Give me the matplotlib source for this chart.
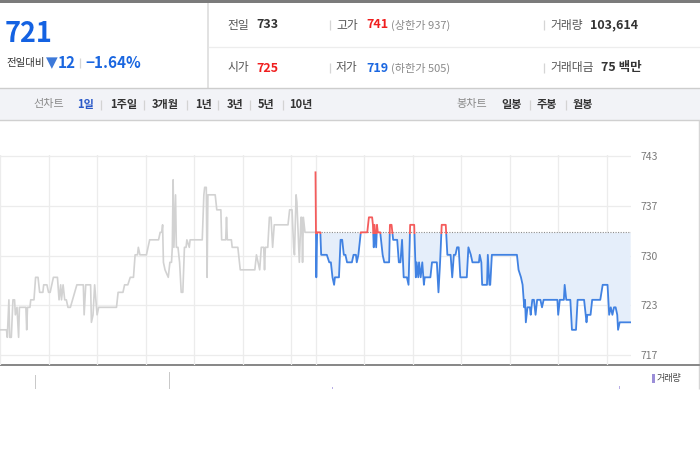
"""
주식 시세 위젯 (1일 선차트) 재현
"""

import numpy as np
import matplotlib
matplotlib.use('Agg')
import matplotlib.pyplot as plt
from matplotlib.patches import Rectangle

plt.rcParams['font.family'] = ['Noto Sans CJK KR', 'DejaVu Sans']

# 전일 장중 (09:00 기준 분, 가격)
prev_min = [0, 8, 9, 11, 12, 14, 16, 18, 19, 21, 23, 24, 32, 33, 34, 37, 38, 42, 44, 47,
            49, 53, 54, 58, 60, 62, 64, 66, 71, 73, 75, 76, 78, 80, 82, 84, 87, 95, 103,
            104, 106, 112, 113, 115, 117, 120, 122, 144, 146, 152, 154, 158, 161, 165, 167,
            170, 171, 173, 181, 185, 196, 198, 200, 201,
            202, 204, 208, 210, 212, 213, 214, 215, 217, 218, 220, 222, 224, 226, 228, 230,
            231, 234, 235, 244, 250, 252, 253, 255, 256, 257, 266, 268, 273, 274, 279, 280,
            281, 286, 287, 294, 297, 315, 317, 319, 321, 323, 326, 327, 328, 331, 333, 335,
            337, 339, 356, 358, 361, 363, 364, 366, 367, 370, 372, 373, 374, 375, 377, 390]
prev_price = [720, 720, 719, 724, 719, 719, 724, 724, 722, 723, 719, 723, 723, 720, 723, 723,
              724, 724, 727, 727, 725, 725, 726, 726, 725, 725, 726, 727, 727, 724, 726, 724,
              726, 724, 724, 723, 723, 726, 726, 722, 726, 726, 721, 722, 726, 722, 723, 723,
              725, 725, 726, 726, 727, 727, 730, 730, 731, 730, 730, 732, 732, 733, 733, 734,
              729, 728, 727, 729, 729, 731, 740, 731, 738, 731, 731,
              729, 725, 725, 731, 731, 732, 731, 732, 732, 732, 738, 739, 739, 727, 738, 738,
              736, 736, 732, 732, 735, 732, 732, 731, 731, 728, 728, 730, 729, 728, 731, 731,
              728, 731, 731, 735, 735, 731, 734, 734, 736, 736, 731, 730, 738, 737, 729, 735,
              735, 729, 735, 733, 733]

# 당일 장중 (09:00 기준 분, 가격)
today_min = [0, 1, 2, 6, 7, 14, 17, 19, 21, 23, 24, 29, 31, 33, 35, 37, 39, 45, 47, 50, 51,
             53, 56, 64, 66, 70, 71, 72, 73, 75, 76, 77, 80, 83, 85, 91, 92, 94, 96, 101, 103,
             105, 107, 109, 113, 115, 117, 122, 124, 125, 127, 128, 130, 132, 134, 135, 142,
             144, 150, 152, 154, 156, 161, 163, 167, 169, 171, 173, 175, 177, 179, 187, 189,
             192, 194, 202, 203, 205, 206, 212, 213, 215, 216, 218, 249, 251, 254, 256, 258,
             259, 260, 262, 265, 266, 268, 270, 272, 274, 278, 280, 282, 299, 300, 302, 307,
             308, 310, 315, 317, 322, 324, 332, 335, 336, 340, 342, 352, 355, 361, 363, 365,
             367, 369, 371, 373, 374, 376, 389]
today_price = [741, 727, 733, 733, 730, 730, 729, 729, 727, 726, 727, 727, 732, 732, 730, 730,
               729, 729, 730, 730, 729, 730, 733, 733, 735, 735, 734, 731, 734, 731, 734, 733,
               733, 730, 729, 729, 734, 734, 732, 732, 729, 729, 732, 727, 727, 726, 734, 734,
               727, 729, 727, 729, 727, 729, 726, 727, 727, 729, 729, 725, 729, 734, 734, 730,
               730, 727, 730, 730, 731, 731, 727, 727, 731, 730, 729, 729, 730, 729, 726, 726,
               730, 726, 726, 730, 730, 728, 727, 726, 723, 724, 721, 723, 723, 722, 724, 724,
               722, 724, 724, 723, 724, 724, 722, 724, 724, 726, 724, 724, 720, 720, 724, 724,
               721, 722, 722, 724, 724, 726, 726, 722, 723, 722, 723, 723, 722, 720, 721, 721]

prev_close = 733
day_len = 390
ytick_vals = [716.64, 723.27, 729.9, 736.53, 743.16]
ytick_labels = ['717', '723', '730', '737', '743']
grid_min = [0, 60, 120, 180, 240, 300, 360, 390, 450, 510, 570, 630, 690, 750]

# 거래량 (보이는 부분만)
vol_min = [44, 210, 411, 766]
vol_val = [14, 17, 2, 3]
vol_color = ['#c9c9c9', '#c9c9c9', '#b9aee6', '#b9aee6']

W, H = 700, 450
fig = plt.figure(figsize=(7, 4.5), dpi=100)

# 배경 레이어 (픽셀 좌표)
bg = fig.add_axes([0, 0, 1, 1])
bg.set_xlim(0, W)
bg.set_ylim(H, 0)
bg.axis('off')


def txt(x, y, s, size=9, color='#333333', weight='normal'):
    bg.text(x, y, s, fontsize=size, color=color, fontweight=weight,
            ha='left', va='center')


def vbar(x, y0, y1, color='#d5d5d5', lw=0.9):
    bg.plot([x, x], [y0, y1], color=color, lw=lw, solid_capstyle='butt')


# 상단 테두리, 구분선
bg.add_patch(Rectangle((0, 0), W, 2.8, color='#7b7b7b', lw=0))
bg.add_patch(Rectangle((207, 2.8), 2, 85, color='#e2e2e2', lw=0))
bg.plot([209, W], [46.5, 46.5], color='#ededed', lw=0.9)

# 현재가
txt(5, 34, '721', size=19.5, color='#1462e2', weight='bold')
txt(6, 63, '전일대비', size=7.5, color='#333333')
bg.text(46, 62.5, '▼', fontsize=11, color='#3d79d9', ha='left', va='center',
        family=['DejaVu Sans'])
txt(57.5, 63, '12', size=11, color='#1a66e0', weight='bold')
vbar(80, 58, 68)
txt(85, 63, '−1.64%', size=11, color='#1a66e0', weight='bold')

# 시세 표
txt(227, 25, '전일', size=8.5, color='#555555')
txt(256, 25, '733', size=9, color='#333333', weight='bold')
vbar(330, 20, 30)
txt(336, 25, '고가', size=8.5, color='#555555')
txt(366, 25, '741', size=9, color='#f01e1e', weight='bold')
txt(391, 25, '(상한가 937)', size=8, color='#8a8a8a')
vbar(544, 20, 30)
txt(550, 25, '거래량', size=8.5, color='#555555')
txt(590, 25, '103,614', size=9, color='#333333', weight='bold')

txt(227, 68, '시가', size=8.5, color='#555555')
txt(256, 68, '725', size=9, color='#f01e1e', weight='bold')
vbar(330, 63, 73)
txt(336, 68, '저가', size=8.5, color='#555555')
txt(366, 68, '719', size=9, color='#1a66e0', weight='bold')
txt(391, 68, '(하한가 505)', size=8, color='#8a8a8a')
vbar(544, 63, 73)
txt(550, 68, '거래대금', size=8.5, color='#555555')
txt(601, 68, '75 백만', size=9, color='#333333', weight='bold')

# 탭 바
bg.add_patch(Rectangle((0, 88), W, 31.5, facecolor='#f2f3f7', edgecolor='none'))
bg.plot([0, W], [88.3, 88.3], color='#cdcdcd', lw=1.0)
bg.plot([0, W], [119.5, 119.5], color='#d0d0d0', lw=1.0)
txt(33, 104.5, '선차트', size=8, color='#8a8a8a')
txt(77, 104.5, '1일', size=8, color='#2a59c8', weight='bold')
tabs = [('1주일', 110), ('3개월', 151.5), ('1년', 195), ('3년', 226.5),
        ('5년', 258), ('10년', 289)]
for label, x in tabs:
    txt(x, 104.5, label, size=8, color='#333333', weight='bold')
for x in [101, 143.5, 187, 218, 250, 283]:
    vbar(x, 100, 110, color='#d3d3d3')
txt(456, 104.5, '봉차트', size=8, color='#8a8a8a')
txt(501.5, 104.5, '일봉', size=8, color='#333333', weight='bold')
txt(537, 104.5, '주봉', size=8, color='#333333', weight='bold')
txt(573, 104.5, '월봉', size=8, color='#333333', weight='bold')
for x in [529.5, 566]:
    vbar(x, 100, 110, color='#d3d3d3')

# 차트 영역 테두리
vbar(699, 120, 389, color='#d6d6d6', lw=1.0)
bg.plot([0, 699], [365, 365], color='#7d7d7d', lw=1.3)

# 범례
bg.add_patch(Rectangle((652, 373.5), 3, 9, color='#9b8ed8', lw=0))
txt(656.5, 378, '거래량', size=6.5, color='#444444')


def px_box(x0, y0, x1, y1):
    return [x0 / W, 1 - y1 / H, (x1 - x0) / W, (y1 - y0) / H]


# 가격 차트
ax = fig.add_axes(px_box(0, 155, 631, 365))
ax.set_facecolor('none')
ax.set_xlim(0, 2 * day_len)
ax.set_ylim(715.31, 743.31)
for s in ax.spines.values():
    s.set_visible(False)
ax.set_xticks(grid_min)
ax.tick_params(axis='x', length=0, labelbottom=False)
ax.yaxis.tick_right()
ax.set_yticks(ytick_vals)
ax.set_yticklabels(ytick_labels)
ax.tick_params(axis='y', length=0, pad=7, labelsize=7.5, labelcolor='#7a7a7a')
ax.grid(True, color='#ececec', lw=0.9)
ax.set_axisbelow(True)

ax.plot(prev_min, prev_price, color='#d2d2d2', lw=1.2, zorder=3)

t = np.array(today_min) + day_len
p = np.array(today_price)
ax.fill_between(t, np.minimum(p, prev_close), prev_close,
                color='#e5eefa', lw=0, zorder=2)
ax.hlines(prev_close, day_len, 2 * day_len, colors='#8c8c8c',
          linestyles=(0, (1, 1.3)), lw=0.8, zorder=3)
cut = prev_close - 0.2
blue, = ax.plot(t, p, color='#4182e2', lw=1.3, zorder=4)
blue.set_clip_path(Rectangle((0, 700), 2 * day_len, cut - 700,
                             transform=ax.transData))
red, = ax.plot(t, p, color='#f45c5c', lw=1.3, zorder=4)
red.set_clip_path(Rectangle((0, cut), 2 * day_len, 50,
                            transform=ax.transData))

# 거래량 (상단만 보임)
vax = fig.add_axes(px_box(0, 365, 631, 389))
vax.set_xlim(0, 2 * day_len)
vax.set_ylim(0, 24)
vax.axis('off')
vax.bar(vol_min, vol_val, width=1.3, color=vol_color)

fig.savefig('out.png', dpi=100, facecolor='white')
